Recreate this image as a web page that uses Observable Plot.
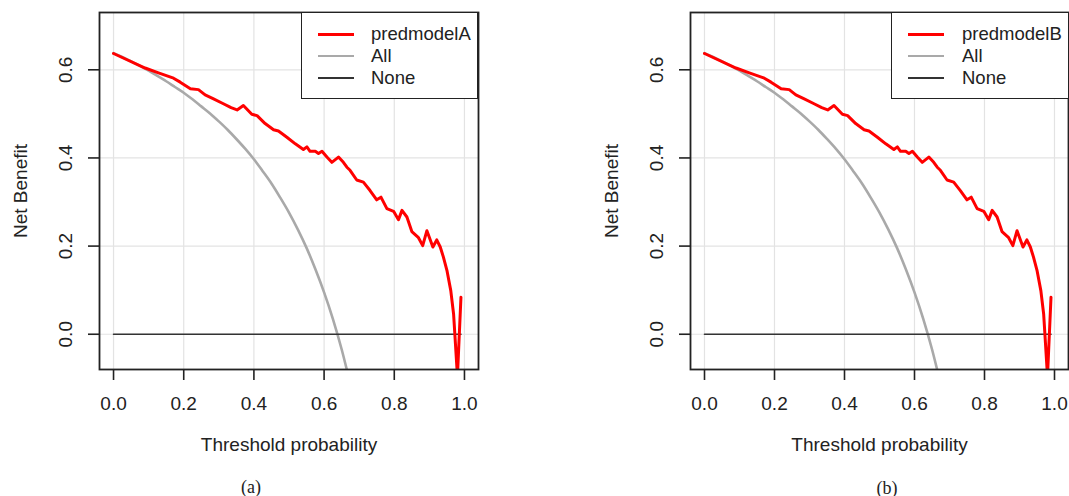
<!DOCTYPE html>
<html>
<head>
<meta charset="utf-8">
<script src="https://cdn.jsdelivr.net/npm/d3@7"></script>
<script src="https://cdn.jsdelivr.net/npm/@observablehq/plot@0.6"></script>
<style>
  html, body { margin: 0; padding: 0; background: #fff; }
  #wrap { position: relative; width: 1069px; height: 496px; overflow: hidden; font-family: "Liberation Sans", Arial, Helvetica, sans-serif; }
  .panel { position: absolute; top: 0; }
  .legend { position: absolute; box-sizing: border-box; border: 1.6px solid #222; background: #fff; }
  .legend .sw { position: absolute; width: 36px; }
  .legend .lab { position: absolute; font-size: 18.5px; line-height: 22px; color: #222; white-space: nowrap; }
  .cap { position: absolute; font-family: "Liberation Serif", "Times New Roman", serif; font-size: 18px; color: #222; transform: translate(-50%, -50%); }
</style>
</head>
<body>
<div id="wrap"></div>
<script>
// ---- data ----
const xTicks = [0, 0.2, 0.4, 0.6, 0.8, 1.0];
const yTicks = [0, 0.2, 0.4, 0.6];
const seriesNames = ["predmodelA", "predmodelB"];
const legendLabels = ["All", "None"];
const captions = ["(a)", "(b)"];

// threshold probabilities for the model curves
const ptModel = [0.000, 0.090, 0.128, 0.171, 0.190, 0.219, 0.242, 0.261, 0.285, 0.313,
  0.335, 0.352, 0.370, 0.394, 0.409, 0.432, 0.456, 0.470, 0.494, 0.518,
  0.541, 0.551, 0.560, 0.575, 0.584, 0.594, 0.608, 0.622, 0.641, 0.655,
  0.665, 0.674, 0.693, 0.712, 0.731, 0.750, 0.762, 0.779, 0.798, 0.812,
  0.822, 0.836, 0.850, 0.869, 0.881, 0.893, 0.910, 0.921, 0.931, 0.940,
  0.950, 0.961, 0.969, 0.980, 0.990];
const nbModelA = [0.637, 0.604, 0.593, 0.581, 0.572, 0.557, 0.555, 0.543, 0.534, 0.523,
  0.514, 0.509, 0.519, 0.499, 0.496, 0.478, 0.464, 0.461, 0.447, 0.432,
  0.419, 0.425, 0.415, 0.415, 0.410, 0.415, 0.402, 0.390, 0.402, 0.390,
  0.379, 0.372, 0.350, 0.345, 0.326, 0.305, 0.311, 0.285, 0.279, 0.260,
  0.281, 0.266, 0.233, 0.219, 0.201, 0.235, 0.198, 0.214, 0.198, 0.175,
  0.145, 0.099, 0.046, -0.095, 0.084];
const nbModelB = [0.637, 0.604, 0.593, 0.581, 0.572, 0.557, 0.555, 0.543, 0.534, 0.523,
  0.514, 0.509, 0.519, 0.499, 0.496, 0.478, 0.464, 0.461, 0.447, 0.432,
  0.419, 0.425, 0.415, 0.415, 0.410, 0.415, 0.402, 0.390, 0.402, 0.390,
  0.379, 0.372, 0.350, 0.345, 0.326, 0.305, 0.311, 0.285, 0.279, 0.260,
  0.281, 0.266, 0.233, 0.219, 0.201, 0.235, 0.198, 0.214, 0.198, 0.175,
  0.145, 0.099, 0.046, -0.095, 0.084];

// "All" (treat everyone) curve
const ptAll = [0.000, 0.025, 0.050, 0.075, 0.100, 0.125, 0.150, 0.175, 0.200, 0.225,
  0.250, 0.275, 0.300, 0.325, 0.350, 0.375, 0.400, 0.425, 0.450, 0.475,
  0.500, 0.525, 0.550, 0.575, 0.600, 0.625, 0.650, 0.675];
const nbAll = [0.638, 0.629, 0.619, 0.609, 0.598, 0.586, 0.574, 0.561, 0.548, 0.533,
  0.517, 0.501, 0.483, 0.464, 0.443, 0.421, 0.397, 0.370, 0.342, 0.310,
  0.276, 0.238, 0.196, 0.148, 0.095, 0.035, -0.034, -0.114];

// "None" (treat no one) line
const ptNone = [0.0, 0.99];
const nbNone = [0.0, 0.0];

// ---- build tables ----
const toRows = (xs, ys) => xs.map((x, i) => ({x, y: ys[i]}));
const allRows = toRows(ptAll, nbAll);
const noneRows = toRows(ptNone, nbNone);
const modelRows = [toRows(ptModel, nbModelA), toRows(ptModel, nbModelB)];

const FONT = '"Liberation Sans", Arial, Helvetica, sans-serif';
const wrap = document.getElementById("wrap");

const layouts = [
  {left: 0, width: 534, marginLeft: 99, marginRight: 56, legendLeft: 300.7, legendWidth: 177.3, swLeft: 16.3, labLeft: 69.3, cap: [251, 487]},
  {left: 534, width: 535, marginLeft: 156, marginRight: 1, legendLeft: 891, legendWidth: 178, swLeft: 15.7, labLeft: 70, cap: [887, 488]}
];

layouts.forEach((L, i) => {
  const chart = Plot.plot({
    width: L.width,
    height: 470,
    marginLeft: L.marginLeft,
    marginRight: L.marginRight,
    marginTop: 12,
    marginBottom: 101,
    x: {domain: [-0.04, 1.04]},
    y: {domain: [-0.08, 0.73]},
    style: {fontFamily: FONT, fontSize: "18.5px", color: "#222", background: "transparent", overflow: "visible"},
    marks: [
      Plot.gridX(xTicks, {stroke: "#e3e3e3", strokeOpacity: 1, strokeWidth: 1.2}),
      Plot.gridY(yTicks, {stroke: "#e3e3e3", strokeOpacity: 1, strokeWidth: 1.2}),
      Plot.line(allRows, {x: "x", y: "y", stroke: "#a9a9a9", strokeWidth: 2.6, curve: "monotone-x", clip: true}),
      Plot.line(noneRows, {x: "x", y: "y", stroke: "#333", strokeWidth: 1.6, clip: true}),
      Plot.line(modelRows[i], {x: "x", y: "y", stroke: "#ff0000", strokeWidth: 3, clip: true}),
      Plot.frame({stroke: "#222", strokeWidth: 1.8}),
      Plot.axisX(xTicks, {tickFormat: d3.format(".1f"), tickSize: 11, tickPadding: 16, strokeWidth: 1.6, stroke: "#222", fontSize: 19,
        label: "Threshold probability", labelAnchor: "center", labelOffset: 81, labelArrow: "none"}),
      Plot.axisY(yTicks, {tickFormat: d3.format(".1f"), tickSize: 11, tickRotate: -90, tickPadding: 17, strokeWidth: 1.6, stroke: "#222", fontSize: 19,
        label: "Net Benefit", labelAnchor: "center", labelOffset: 86, labelArrow: "none"})
    ]
  });
  const holder = document.createElement("div");
  holder.className = "panel";
  holder.style.left = L.left + "px";
  holder.appendChild(chart);
  wrap.appendChild(holder);

  // legend (drawn like R's legend box)
  const lg = document.createElement("div");
  lg.className = "legend";
  lg.style.left = L.legendLeft + "px";
  lg.style.top = "11.5px";
  lg.style.width = L.legendWidth + "px";
  lg.style.height = "87.5px";
  const entries = [
    {label: seriesNames[i], color: "#ff0000", w: 3},
    {label: legendLabels[0], color: "#a9a9a9", w: 2.6},
    {label: legendLabels[1], color: "#333", w: 1.6}
  ];
  entries.forEach((e, k) => {
    const cy = 21.5 + k * 22;
    const sw = document.createElement("div");
    sw.className = "sw";
    sw.style.left = L.swLeft + "px";
    sw.style.top = (cy - e.w / 2) + "px";
    sw.style.height = e.w + "px";
    sw.style.background = e.color;
    lg.appendChild(sw);
    const lab = document.createElement("div");
    lab.className = "lab";
    lab.style.left = L.labLeft + "px";
    lab.style.top = (cy - 11) + "px";
    lab.textContent = e.label;
    lg.appendChild(lab);
  });
  wrap.appendChild(lg);

  const cap = document.createElement("div");
  cap.className = "cap";
  cap.style.left = L.cap[0] + "px";
  cap.style.top = L.cap[1] + "px";
  cap.textContent = captions[i];
  wrap.appendChild(cap);
});
</script>
</body>
</html>
